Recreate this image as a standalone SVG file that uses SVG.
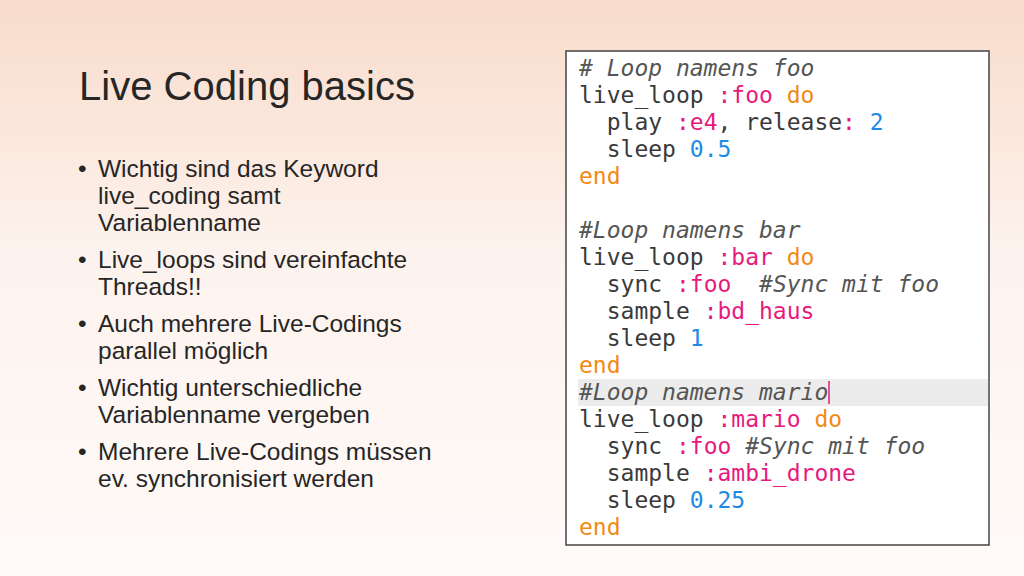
<svg xmlns="http://www.w3.org/2000/svg" width="1024" height="576" viewBox="0 0 1024 576">
<defs>
<linearGradient id="bg" x1="0" y1="0" x2="0" y2="1">
<stop offset="0" stop-color="#f8dccb"/>
<stop offset="0.45" stop-color="#fdf3ee"/>
<stop offset="1" stop-color="#fffaf8"/>
</linearGradient>
<style>
.t{font-family:"Liberation Sans",Arial,sans-serif;fill:#262626}
.b{font-size:24.5px}
.c{font-family:"DejaVu Sans Mono",monospace;font-size:23px;fill:#3a3a3a}
.cm{font-style:italic;fill:#555}
.k{fill:#e8197d}
.o{fill:#f28a12}
.n{fill:#1e8ae6}
</style>
</defs>
<rect width="1024" height="576" fill="url(#bg)"/>
<g id="title"><text class="t" x="79" y="100" font-size="40" textLength="336">Live Coding basics</text></g>
<g id="bullets" class="t b">
<text x="78" y="177">•</text><text x="98" y="177">Wichtig sind das Keyword</text>
<text x="98" y="204">live_coding samt</text>
<text x="98" y="231">Variablenname</text>
<text x="78" y="268">•</text><text x="98" y="268">Live_loops sind vereinfachte</text>
<text x="98" y="295">Threads!!</text>
<text x="78" y="332">•</text><text x="98" y="332">Auch mehrere Live-Codings</text>
<text x="98" y="359">parallel möglich</text>
<text x="78" y="396">•</text><text x="98" y="396">Wichtig unterschiedliche</text>
<text x="98" y="423">Variablenname vergeben</text>
<text x="78" y="460">•</text><text x="98" y="460">Mehrere Live-Codings müssen</text>
<text x="98" y="487">ev. synchronisiert werden</text>
</g>
<g id="code">
<rect x="566" y="51" width="423" height="494" fill="#fff" stroke="#444" stroke-width="1.5"/>
<rect x="578" y="379" width="410" height="27" fill="#ececec"/>
<line x1="829" y1="381" x2="829" y2="404" stroke="#e8197d" stroke-width="1.5"/>
<text class="c" x="579" y="76"><tspan class="cm"># Loop namens foo</tspan></text>
<text class="c" x="579" y="103">live_loop <tspan class="k">:foo</tspan> <tspan class="o">do</tspan></text>
<text class="c" x="579" y="130" xml:space="preserve">  play <tspan class="k">:e4</tspan>, release<tspan class="k">:</tspan> <tspan class="n">2</tspan></text>
<text class="c" x="579" y="157" xml:space="preserve">  sleep <tspan class="n">0.5</tspan></text>
<text class="c o" x="579" y="184">end</text>
<text class="c" x="579" y="238"><tspan class="cm">#Loop namens bar</tspan></text>
<text class="c" x="579" y="265">live_loop <tspan class="k">:bar</tspan> <tspan class="o">do</tspan></text>
<text class="c" x="579" y="292" xml:space="preserve">  sync <tspan class="k">:foo</tspan>  <tspan class="cm">#Sync mit foo</tspan></text>
<text class="c" x="579" y="319" xml:space="preserve">  sample <tspan class="k">:bd_haus</tspan></text>
<text class="c" x="579" y="346" xml:space="preserve">  sleep <tspan class="n">1</tspan></text>
<text class="c o" x="579" y="373">end</text>
<text class="c" x="579" y="400"><tspan class="cm">#Loop namens mario</tspan></text>
<text class="c" x="579" y="427">live_loop <tspan class="k">:mario</tspan> <tspan class="o">do</tspan></text>
<text class="c" x="579" y="454" xml:space="preserve">  sync <tspan class="k">:foo</tspan> <tspan class="cm">#Sync mit foo</tspan></text>
<text class="c" x="579" y="481" xml:space="preserve">  sample <tspan class="k">:ambi_drone</tspan></text>
<text class="c" x="579" y="508" xml:space="preserve">  sleep <tspan class="n">0.25</tspan></text>
<text class="c o" x="579" y="535">end</text>
</g>
</svg>
